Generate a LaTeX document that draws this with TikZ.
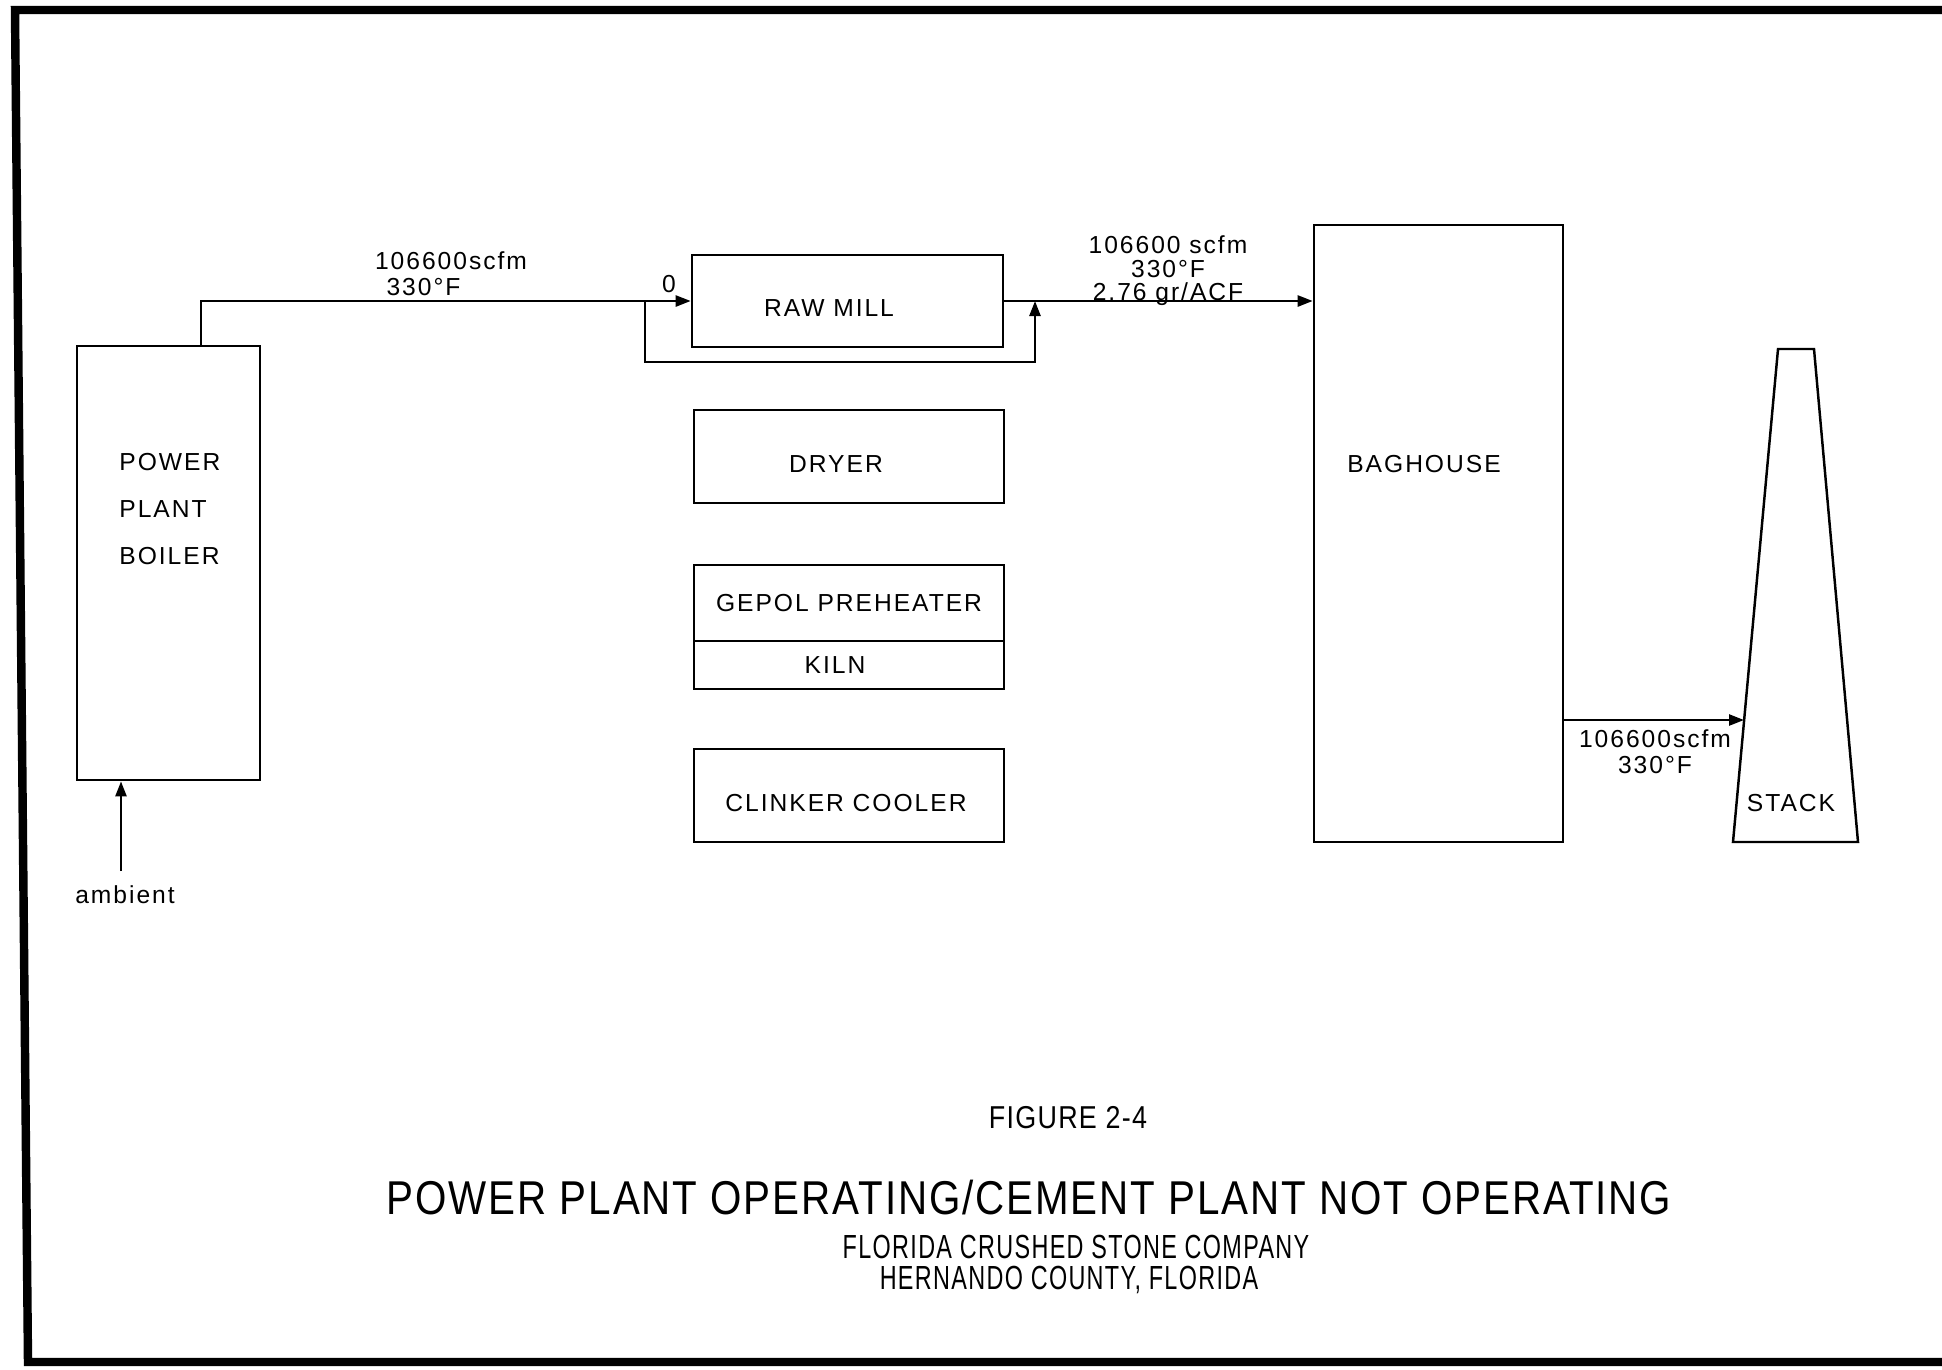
\documentclass[tikz,border=0pt]{standalone}
\usepackage{fontspec}
\usetikzlibrary{arrows.meta,positioning}
\newfontfamily\boxfont[LetterSpace=8]{Liberation Sans}
\newfontfamily\titlefont[FakeStretch=0.85,LetterSpace=4]{Liberation Sans}
\newfontfamily\plotfont[FakeStretch=0.70,LetterSpace=4]{Liberation Sans}

\tikzset{
  unit/.style={draw,line width=0.7pt,minimum width=3.1cm,inner sep=0pt},
  boxtxt/.style={font=\boxfont\fontsize{7}{13.4}\selectfont},
  flowtxt/.style={font=\boxfont\fontsize{7}{7.3}\selectfont,align=center,inner sep=0pt},
  flow/.style={draw,line width=0.7pt,-{Triangle[length=1.5mm,width=1.1mm]}},
  pipe/.style={draw,line width=0.7pt}
}

\begin{document}
\begin{tikzpicture}[x=0.01cm,y=-0.01cm]
  \useasboundingbox (0,0) rectangle (1942,1369);
  % sheet border
  \draw[line width=2.4pt] (1942,10) -- (15,10) -- (28,1362) -- (1942,1362);

  % units
  \node[unit,minimum width=1.83cm,minimum height=4.34cm] (boiler) at (168.5,563) {};
  \node[boxtxt,align=left,anchor=west] (boilertxt) at (107,509) {POWER\\PLANT\\BOILER};
  \node[unit,minimum width=3.11cm,minimum height=0.92cm] (rawmill) at (847.5,301) {};
  \node[boxtxt] (rawmilltxt) at (829,308) {RAW MILL};
  \node[unit,minimum height=0.93cm] (dryer) at (849,456.5) {};
  \node[boxtxt] (dryertxt) at (836,464) {DRYER};
  \node[unit,boxtxt,minimum height=0.76cm] (preheater) at (849,603) {GEPOL PREHEATER};
  \node[unit,minimum height=0.48cm] (kiln) at (849,665) {};
  \node[boxtxt] (kilntxt) at (835,665) {KILN};
  \node[unit,minimum height=0.93cm] (cooler) at (849,795.5) {};
  \node[boxtxt] (coolertxt) at (846,803) {CLINKER COOLER};
  \node[unit,minimum width=2.49cm,minimum height=6.17cm] (baghouse) at (1438.5,533.5) {};
  \node[boxtxt] (bagtxt) at (1424,464) {BAGHOUSE};

  % stack
  \coordinate (stacktl) at (1778,349);
  \coordinate (stacktr) at (1814,349);
  \coordinate (stackbr) at (1858,842);
  \coordinate (stackbl) at (1733,842);
  \draw[pipe] (stacktl) -- (stacktr) -- (stackbr) -- (stackbl) -- cycle;
  \node[boxtxt] (stacktxt) at (1791,803) {STACK};
  \coordinate (stackin) at (1744,720);

  % gas flow
  \draw[flow] ([xshift=0.325cm]boiler.north) |- (rawmill.west);
  \node[flowtxt] (inlbl) at (451,274) {106600scfm\\330°F\hspace*{0.55cm}};
  \node[flowtxt] (zerolbl) at (669,284) {0};
  \coordinate (bypl) at (645,301);
  \coordinate (bypr) at (1035,301);
  \draw[flow] (bypl) -- ++(0,61) -| (bypr);
  \draw[flow] (rawmill.east) -- (rawmill.east -| baghouse.west);
  \node[flowtxt,font=\boxfont\fontsize{7}{6.7}\selectfont] (millout) at (1168,271) {106600 scfm\\330°F\\2.76 gr/ACF};
  \draw[flow] (baghouse.east |- stackin) -- (stackin);
  \node[flowtxt] (stacklbl) at (1655,752) {106600scfm\\330°F};
  \coordinate (ambin) at (121,871);
  \draw[flow] (ambin) -- (ambin |- boiler.south);
  \node[flowtxt] (ambient) at (125,895) {ambient};

  % caption
  \node[font=\titlefont\fontsize{9}{10}\selectfont] (figno) at (1068,1118) {FIGURE 2-4};
  \node[font=\titlefont\fontsize{13.5}{15}\selectfont] (title) at (1029,1198) {POWER PLANT OPERATING/CEMENT PLANT NOT OPERATING};
  \node[font=\plotfont\fontsize{9.5}{10}\selectfont] (company) at (1076,1247) {FLORIDA CRUSHED STONE COMPANY};
  \node[font=\plotfont\fontsize{9.5}{10}\selectfont] (county) at (1069,1280) {HERNANDO COUNTY, FLORIDA};
\end{tikzpicture}
\end{document}
